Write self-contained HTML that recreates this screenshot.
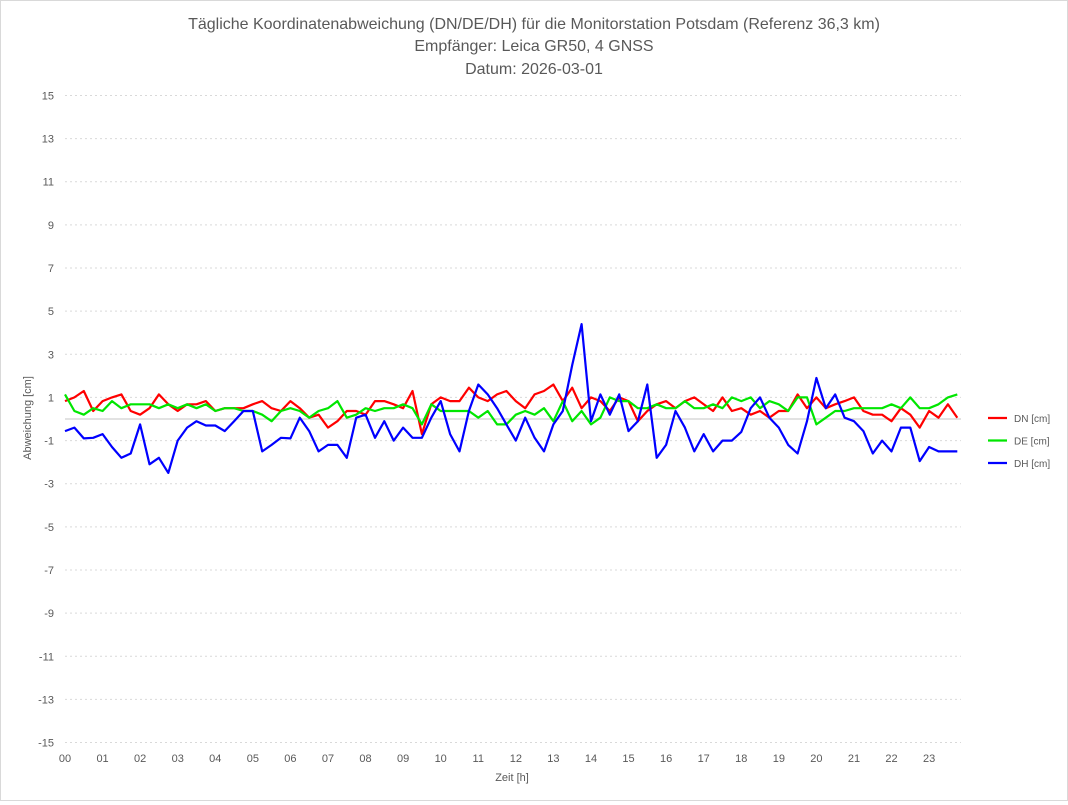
<!DOCTYPE html>
<html><head><meta charset="utf-8"><style>
body{margin:0;background:#fff}
#wrap{width:1066px;height:799px;border:1px solid #d9d9d9;position:relative;font-family:"Liberation Sans",sans-serif}
svg text{font-family:"Liberation Sans",sans-serif}
</style></head><body>
<div id="wrap">
<svg id="chart" width="1066" height="799">
<text x="533" y="28" text-anchor="middle" font-size="16" fill="#595959">Tägliche Koordinatenabweichung (DN/DE/DH) für die Monitorstation Potsdam (Referenz 36,3 km)</text>
<text x="533" y="50" text-anchor="middle" font-size="16" fill="#595959">Empfänger: Leica GR50, 4 GNSS</text>
<text x="533" y="73" text-anchor="middle" font-size="16" fill="#595959">Datum: 2026-03-01</text>
<text transform="translate(30,417) rotate(-90)" text-anchor="middle" font-size="11" fill="#595959">Abweichung [cm]</text>
<text x="511" y="780" text-anchor="middle" font-size="11" fill="#595959">Zeit [h]</text>
<g id="grid"></g><g id="series"></g><g id="legend"></g>
</svg></div>
<script>
const hourLabels=["00","01","02","03","04","05","06","07","08","09","10","11","12","13","14","15","16","17","18","19","20","21","22","23"];
const yTicks=[15,13,11,9,7,5,3,1,-1,-3,-5,-7,-9,-11,-13,-15];
const seriesNames=["DN [cm]","DE [cm]","DH [cm]"];
const dn=[.83,1.0,1.3,.37,.83,1.0,1.14,.37,.2,.5,1.14,.68,.37,.68,.68,.83,.37,.5,.5,.5,.68,.83,.5,.37,.83,
.5,.06,.2,-.4,-.1,.37,.37,.2,.83,.83,.68,.5,1.3,-.7,.68,1.0,.83,.83,1.45,1.0,.83,1.14,1.3,.83,
.5,1.14,1.3,1.6,.83,1.45,.5,1.0,.83,.37,1.0,.83,-.1,.37,.68,.83,.5,.83,1.0,.68,.37,1.0,.37,.5,
.2,.37,.06,.37,.37,1.14,.5,1.0,.5,.68,.83,1.0,.37,.2,.2,-.1,.5,.2,-.4,.37,.06,.68,.06];
const de=[1.14,.37,.2,.5,.37,.83,.5,.68,.68,.68,.5,.68,.5,.68,.5,.68,.37,.5,.5,.37,.37,.2,-.1,.37,.5,
.37,.06,.37,.5,.83,.06,.2,.5,.37,.5,.5,.68,.5,-.25,.68,.37,.37,.37,.37,.06,.37,-.25,-.25,.2,
.37,.2,.5,-.1,.83,-.1,.37,-.25,.06,1.0,.83,.83,.5,.5,.68,.5,.5,.83,.5,.5,.68,.5,1.0,.83,
1.0,.5,.83,.68,.37,1.0,1.0,-.25,.06,.37,.37,.5,.5,.5,.5,.68,.5,1.0,.5,.5,.68,1.0,1.14];
const dh=[-.56,-.4,-.9,-.87,-.7,-1.3,-1.8,-1.6,-.25,-2.1,-1.8,-2.5,-1.0,-.4,-.1,-.3,-.3,-.56,-.1,.37,.37,-1.5,-1.2,-.87,-.9,
.06,-.56,-1.5,-1.2,-1.2,-1.8,.06,.2,-.87,-.1,-1.0,-.4,-.87,-.87,.06,.83,-.7,-1.5,.37,1.6,1.14,.5,-.25,-1.0,
.06,-.87,-1.5,-.25,.37,2.5,4.4,-.1,1.14,.2,1.14,-.56,-.1,1.6,-1.8,-1.2,.37,-.4,-1.5,-.7,-1.5,-1.0,-1.0,-.6,
.5,1.0,.06,-.4,-1.2,-1.6,-.1,1.9,.5,1.14,.06,-.1,-.56,-1.6,-1.0,-1.5,-.4,-.4,-1.95,-1.3,-1.5,-1.5,-1.5];
const stepHours=0.25;
const X0=64,PXH=37.57,Y0=418,PXU=21.57;
const xs=h=>X0+h*PXH, ys=v=>Y0-v*PXU;
const NS="http://www.w3.org/2000/svg";
const grid=document.getElementById('grid');
function mk(tag,attrs,parent){const e=document.createElementNS(NS,tag);for(const k in attrs)e.setAttribute(k,attrs[k]);parent.appendChild(e);return e;}
yTicks.forEach(v=>{
 const l=mk('line',{x1:X0,x2:960,y1:ys(v),y2:ys(v),stroke:'#d9d9d9','stroke-dasharray':'2,3','stroke-width':1},grid);
 
 
 const t=mk('text',{x:53,y:ys(v)+4,'text-anchor':'end','font-size':11,fill:'#595959'},grid);
 t.textContent=v;
 
 
});
const zl=mk('line',{x1:X0,x2:960,y1:ys(0),y2:ys(0),stroke:'#d9d9d9','stroke-width':1.5},grid);


hourLabels.forEach((lb,i)=>{
 const t=mk('text',{x:xs(i),y:761,'text-anchor':'middle','font-size':11,fill:'#595959'},grid);
 t.textContent=lb;
 
 
});
const ser=document.getElementById('series');
const cols=['#ff0000','#00e600','#0000ff'];
[dn,de,dh].forEach((arr,si)=>{
 const d=arr.map((v,i)=>(i?'L':'M')+xs(i*stepHours).toFixed(1)+','+ys(v).toFixed(1)).join(' ');
 const p=mk('path',{d:d,fill:'none',stroke:cols[si],'stroke-width':2.2,'stroke-linejoin':'round'},ser);
 
 
});
const lg=document.getElementById('legend');
seriesNames.forEach((n,i)=>{
 const y=417+i*22.5;
 const l=mk('line',{x1:987,x2:1006,y1:y,y2:y,stroke:cols[i],'stroke-width':2.2},lg);
 
 
 const t=mk('text',{x:1013,y:y+4,'font-size':10,fill:'#595959'},lg);
 t.textContent=n;
 
 
});
</script>
</body></html>
